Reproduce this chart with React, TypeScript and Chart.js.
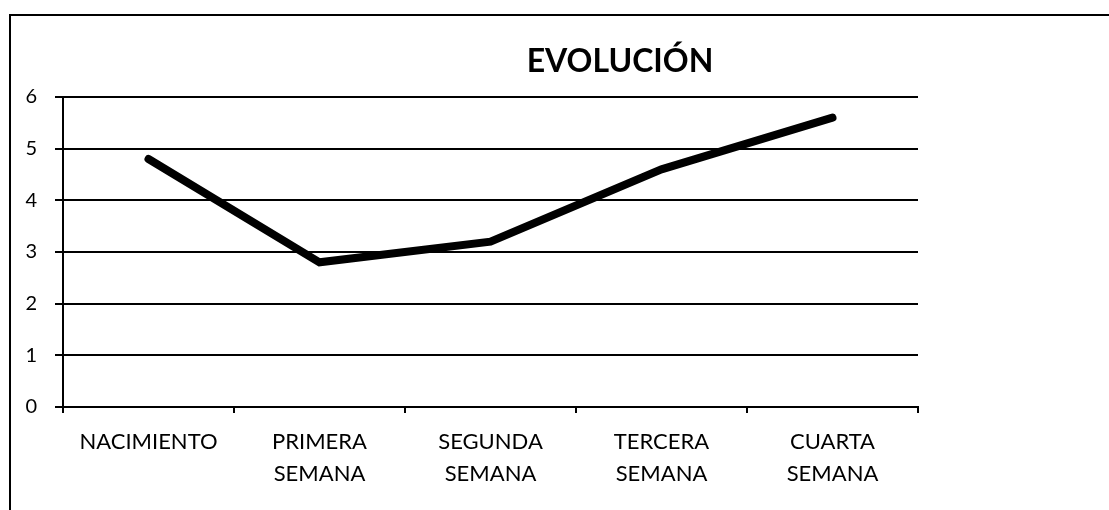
import React, { useEffect, useRef } from "react";
import { Chart, registerables } from "chart.js";

Chart.register(...registerables);

const categories: string[][] = [
  ["NACIMIENTO"],
  ["PRIMERA", "SEMANA"],
  ["SEGUNDA", "SEMANA"],
  ["TERCERA", "SEMANA"],
  ["CUARTA", "SEMANA"],
];
const values: number[] = [4.8, 2.8, 3.2, 4.6, 5.6];
const titleText = "EVOLUCIÓN";
const yMin = 0;
const yMax = 6;
const yStep = 1;

const W = 1109;
const H = 510;

export default function App() {
  const ref = useRef<HTMLCanvasElement | null>(null);

  useEffect(() => {
    if (!ref.current) return;
    const framePlugin = {
      id: "frame",
      beforeDraw(chart: any) {
        const ctx = chart.ctx;
        ctx.save();
        ctx.fillStyle = "#ffffff";
        ctx.fillRect(0, 0, W, H);
        ctx.strokeStyle = "#000";
        ctx.lineWidth = 2;
        ctx.beginPath();
        ctx.moveTo(10, H);
        ctx.lineTo(10, 15);
        ctx.lineTo(W, 15);
        ctx.stroke();
        ctx.restore();
      },
      afterDraw(chart: any) {
        const ctx = chart.ctx;
        ctx.save();
        ctx.fillStyle = "#000";
        ctx.font = "bold 32px Lato";
        ctx.textAlign = "center";
        ctx.textBaseline = "alphabetic";
        ctx.fillText(titleText, 620, 72);
        ctx.restore();
      },
    };

    const chart = new Chart(ref.current, {
      type: "line",
      data: {
        labels: categories,
        datasets: [
          {
            data: values,
            borderColor: "#000",
            backgroundColor: "#000",
            borderWidth: 8,
            pointRadius: 0,
            borderCapStyle: "round",
            borderJoinStyle: "miter",
            tension: 0,
          },
        ],
      },
      options: {
        responsive: false,
        animation: false,
        layout: { padding: { left: 0, right: 191, top: 97, bottom: 0 } },
        plugins: {
          legend: { display: false },
          title: { display: false },
          tooltip: { enabled: false },
        },
        scales: {
          x: {
            offset: true,
            grid: {
              offset: true,
              display: true,
              drawOnChartArea: false,
              drawTicks: true,
              tickLength: 6,
              color: "#000",
              lineWidth: 2,
            },
            border: { display: true, color: "#000", width: 2 },
            ticks: {
              color: "#000",
              padding: 13,
              maxRotation: 0,
              autoSkip: false,
              font: { family: "Lato", size: 22, lineHeight: 32 / 22 },
            },
            afterFit(scale: any) {
              scale.height = H - 407;
            },
          },
          y: {
            min: yMin,
            max: yMax,
            grid: {
              color: "#000",
              lineWidth: 2,
              drawTicks: true,
              tickLength: 8,
            },
            border: { display: true, color: "#000", width: 2 },
            ticks: {
              stepSize: yStep,
              color: "#000",
              padding: 18,
              font: { family: "Lato", size: 20 },
            },
            afterFit(scale: any) {
              scale.width = 63;
            },
          },
        },
      },
      plugins: [framePlugin],
    } as any);
    return () => chart.destroy();
  }, []);

  return (
    <div style={{ position: "fixed", left: 0, top: 0, width: W, height: H, background: "#fff" }}>
      <canvas ref={ref} width={W} height={H} style={{ display: "block" }} />
    </div>
  );
}
